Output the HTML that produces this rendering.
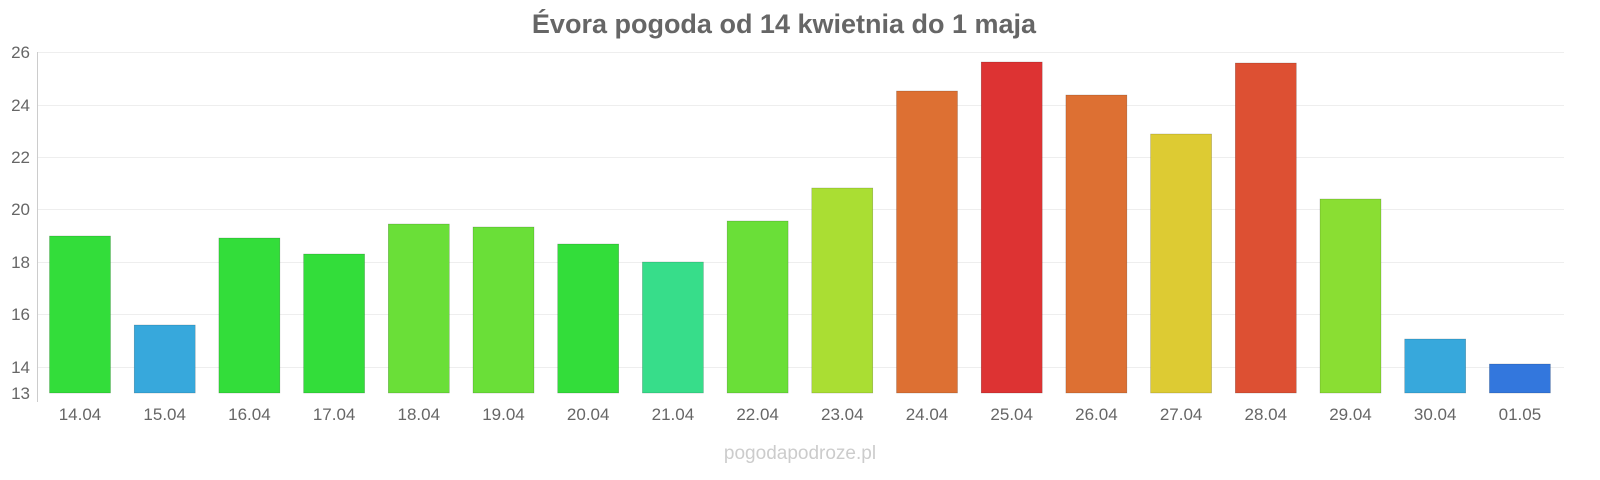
<!DOCTYPE html>
<html><head><meta charset="utf-8"><style>
body{margin:0;background:#fff;}
svg{display:block;font-family:"Liberation Sans",sans-serif;}
</style></head><body>
<svg width="1600" height="480" viewBox="0 0 1600 480">
<text x="784" y="33" text-anchor="middle" font-size="27" font-weight="bold" fill="#666">Évora pogoda od 14 kwietnia do 1 maja</text>
<g stroke="#eee" stroke-width="1">
<line x1="37" x2="1564" y1="52.5" y2="52.5"/>
<line x1="37" x2="1564" y1="105.5" y2="105.5"/>
<line x1="37" x2="1564" y1="157.5" y2="157.5"/>
<line x1="37" x2="1564" y1="209.5" y2="209.5"/>
<line x1="37" x2="1564" y1="262.5" y2="262.5"/>
<line x1="37" x2="1564" y1="314.5" y2="314.5"/>
<line x1="37" x2="1564" y1="367.5" y2="367.5"/>
</g>
<line x1="37.5" x2="37.5" y1="52" y2="402" stroke="#ccc"/>
<g font-size="17" fill="#666" text-anchor="end">
<text x="30" y="58">26</text><text x="30" y="111">24</text><text x="30" y="163">22</text>
<text x="30" y="215">20</text><text x="30" y="268">18</text><text x="30" y="320">16</text>
<text x="30" y="373">14</text><text x="30" y="399">13</text>
</g>
<g stroke-opacity="0.3" stroke="#000" stroke-width="0.5">
<rect x="49.5" y="236" width="61" height="157" fill="#33dd3a"/>
<rect x="134.2" y="325" width="61" height="68" fill="#37a8dc"/>
<rect x="218.9" y="238" width="61" height="155" fill="#33dd3a"/>
<rect x="303.6" y="254" width="61" height="139" fill="#33dd3a"/>
<rect x="388.3" y="224" width="61" height="169" fill="#6adf38"/>
<rect x="473" y="227" width="61" height="166" fill="#6adf38"/>
<rect x="557.7" y="244" width="61" height="149" fill="#33dd3a"/>
<rect x="642.4" y="262" width="61" height="131" fill="#37dd8a"/>
<rect x="727.1" y="221" width="61" height="172" fill="#6adf38"/>
<rect x="811.8" y="188" width="61" height="205" fill="#aade33"/>
<rect x="896.5" y="91" width="61" height="302" fill="#dd7033"/>
<rect x="981.2" y="62" width="61" height="331" fill="#dd3333"/>
<rect x="1065.9" y="95" width="61" height="298" fill="#dd7033"/>
<rect x="1150.6" y="134" width="61" height="259" fill="#ddcb33"/>
<rect x="1235.3" y="63" width="61" height="330" fill="#dd5033"/>
<rect x="1320" y="199" width="61" height="194" fill="#8ade33"/>
<rect x="1404.7" y="339" width="61" height="54" fill="#37a8dc"/>
<rect x="1489.4" y="364" width="61" height="29" fill="#3377dd"/>
</g>
<g font-size="17" fill="#666" text-anchor="middle">
<text x="80" y="420">14.04</text><text x="164.7" y="420">15.04</text><text x="249.4" y="420">16.04</text>
<text x="334.1" y="420">17.04</text><text x="418.8" y="420">18.04</text><text x="503.5" y="420">19.04</text>
<text x="588.2" y="420">20.04</text><text x="672.9" y="420">21.04</text><text x="757.6" y="420">22.04</text>
<text x="842.3" y="420">23.04</text><text x="927" y="420">24.04</text><text x="1011.7" y="420">25.04</text>
<text x="1096.4" y="420">26.04</text><text x="1181.1" y="420">27.04</text><text x="1265.8" y="420">28.04</text>
<text x="1350.5" y="420">29.04</text><text x="1435.2" y="420">30.04</text><text x="1519.9" y="420">01.05</text>
</g>
<text x="800" y="459" text-anchor="middle" font-size="19" fill="#ccc">pogodapodroze.pl</text>
</svg>
</body></html>
